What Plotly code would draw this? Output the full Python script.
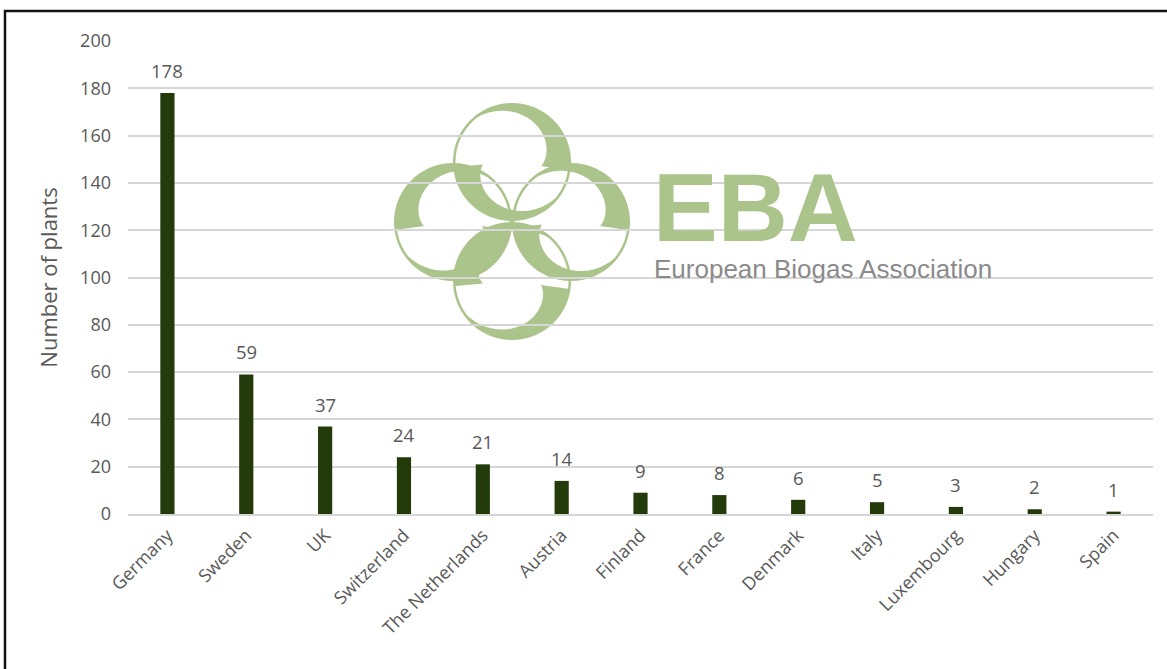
import math
import plotly.graph_objects as go

countries = ["Germany", "Sweden", "UK", "Switzerland", "The Netherlands", "Austria",
             "Finland", "France", "Denmark", "Italy", "Luxembourg", "Hungary", "Spain"]
plants = [178, 59, 37, 24, 21, 14, 9, 8, 6, 5, 3, 2, 1]
y_ticks = [0, 20, 40, 60, 80, 100, 120, 140, 160, 180, 200]

W_PX, H_PX = 1167, 669
ML, MR, MT, MB = 128, 14, 41, 155
PW = W_PX - ML - MR
PH = H_PX - MT - MB

BAR_COLOR = "#233a0b"
TEXT_COLOR = "#595959"
GRID_COLOR = "#d6d6d6"
LOGO_COLOR = "#abc48c"
FONT = "Open Sans, Lato, sans-serif"


def to_paper(px, py):
    return (px - ML) / PW, (H_PX - MB - py) / PH


def ring_path(cx, cy, R, lobes, tmax=30.0, tmin=2.5, span=135.0):
    def thick(th):
        t = tmin
        for cut, d in lobes:
            delta = (d * (th - cut)) % 360.0
            if delta < span:
                t = max(t, tmax - (tmax - tmin) * (delta / span) ** 0.8)
        return t

    start = lobes[0][0] + (0.001 if lobes[0][1] > 0 else -0.001)
    angles = [start + i * 2.0 for i in range(181)]
    extra = []
    for cut, _ in lobes:
        for e in (-0.01, 0.01):
            a = cut + e
            while a < start:
                a += 360
            while a > start + 360:
                a -= 360
            extra.append(a)
    angles = sorted(set([a for a in angles if a <= start + 359.99] + extra))
    outer = []
    inner = []
    for a in angles:
        rad = math.radians(a)
        ox, oy = cx + R * math.cos(rad), cy - R * math.sin(rad)
        r2 = R - thick(a % 360)
        ix, iy = cx + r2 * math.cos(rad), cy - r2 * math.sin(rad)
        outer.append(to_paper(ox, oy))
        inner.append(to_paper(ix, iy))
    pts = outer + inner[::-1]
    return "M " + " L ".join(f"{x:.5f},{y:.5f}" for x, y in pts) + " Z"


fig = go.Figure()
fig.add_trace(go.Bar(
    x=countries, y=plants, marker=dict(color=BAR_COLOR, line=dict(width=0)),
    width=0.18, hoverinfo="x+y",
))

annotations = []
for c, v in zip(countries, plants):
    annotations.append(dict(
        x=c, y=v, text=str(v), showarrow=False, xref="x", yref="y",
        yanchor="bottom", yshift=8,
        font=dict(family=FONT, size=18.5, color=TEXT_COLOR),
    ))

# EBA watermark text
x0p, y0p = to_paper(651, 207)
annotations.append(dict(
    x=x0p, y=y0p, xref="paper", yref="paper", text="<b>EBA</b>", showarrow=False,
    xanchor="left", yanchor="middle", height=72, valign="middle",
    font=dict(family="Liberation Sans, Arial, sans-serif", size=97, color=LOGO_COLOR),
))
x1p, y1p = to_paper(652, 256)
annotations.append(dict(
    x=x1p, y=y1p, xref="paper", yref="paper", text="European Biogas Association",
    showarrow=False, xanchor="left", yanchor="top", yshift=4,
    font=dict(family="Liberation Sans, Arial, sans-serif", size=26, color="#8a8a8a"),
))

shapes = []
R = 59
rings = [
    (512, 162, [(-8, 1), (185, 1)]),
    (571, 222, [(-8, 1), (185, 1)]),
    (453, 222, [(188, -1), (-8, -1)]),
    (512, 281, [(-8, -1), (185, -1)]),
]
for cx, cy, lobes in rings:
    shapes.append(dict(
        type="path", path=ring_path(cx, cy, R, lobes), xref="paper", yref="paper",
        fillcolor=LOGO_COLOR, line=dict(width=0), layer="below",
    ))

# outer frame
bx0, by0 = to_paper(5, 11)
bx1, by1 = to_paper(1175, 680)
shapes.append(dict(
    type="rect", xref="paper", yref="paper", x0=bx0, y0=by1, x1=bx1, y1=by0,
    line=dict(color="#111111", width=2.5), fillcolor="rgba(0,0,0,0)", layer="above",
))

fig.update_layout(
    width=W_PX, height=H_PX,
    margin=dict(l=ML, r=MR, t=MT, b=MB, pad=0),
    paper_bgcolor="white", plot_bgcolor="rgba(0,0,0,0)",
    showlegend=False, bargap=0.82,
    annotations=annotations, shapes=shapes,
    font=dict(family=FONT, color=TEXT_COLOR),
    xaxis=dict(
        tickangle=-45, tickfont=dict(family=FONT, size=18, color=TEXT_COLOR),
        showgrid=False, showline=True, linecolor=GRID_COLOR, linewidth=1.6,
        ticks="", ticklabelstandoff=2, fixedrange=True,
    ),
    yaxis=dict(
        range=[0, 200], tickvals=y_ticks, ticktext=[str(t) for t in y_ticks],
        showgrid=True, gridcolor=GRID_COLOR, gridwidth=1.5, zeroline=False,
        tickfont=dict(family=FONT, size=18, color=TEXT_COLOR), ticklabelstandoff=16,
        title=dict(text="Number of plants", font=dict(family=FONT, size=22, color=TEXT_COLOR), standoff=16),
        fixedrange=True,
    ),
)

fig.write_html("out.html")
